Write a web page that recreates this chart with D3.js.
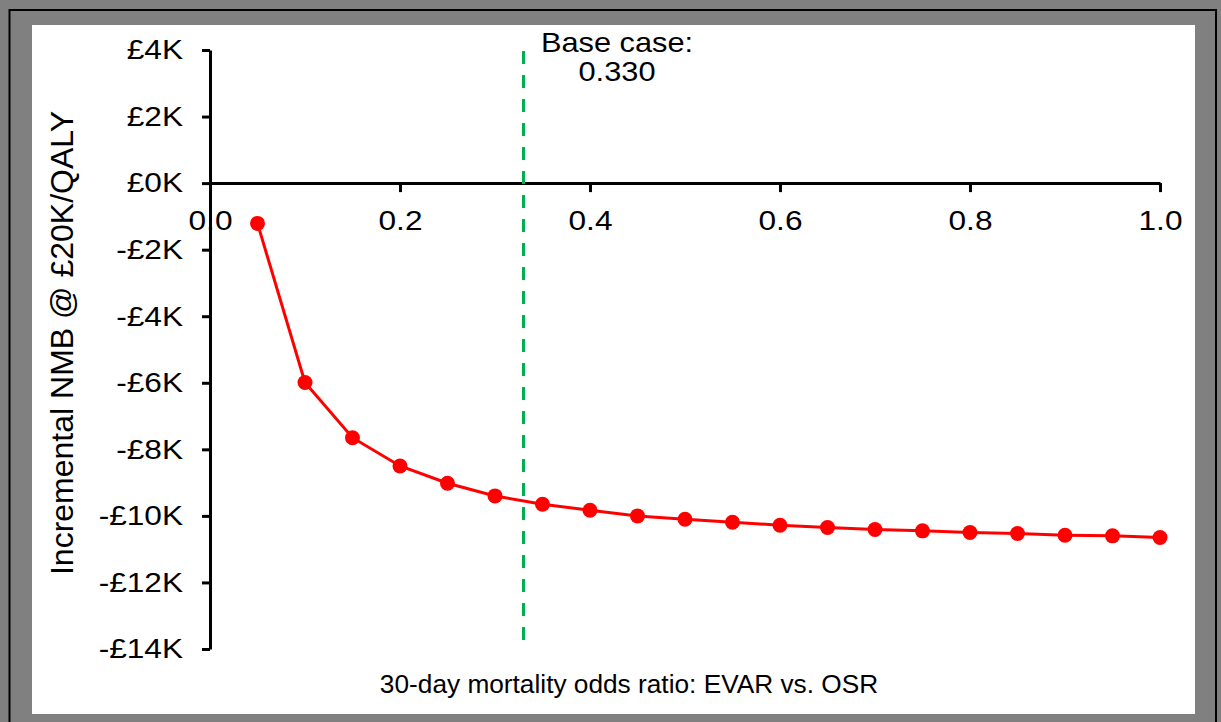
<!DOCTYPE html>
<html>
<head>
<meta charset="utf-8">
<script src="https://cdn.jsdelivr.net/npm/d3@7"></script>
<style>
  body { margin: 0; background: #808080; }
  svg { display: block; }
  text { font-family: "Liberation Sans", Arial, sans-serif; fill: #000; }
</style>
</head>
<body>
<div class="container"></div>
<script>
// data
const oddsRatio = [0.05, 0.10, 0.15, 0.20, 0.25, 0.30, 0.35, 0.40, 0.45, 0.50,
    0.55, 0.60, 0.65, 0.70, 0.75, 0.80, 0.85, 0.90, 0.95, 1.00]
const nmb = [-1210, -5990, -7650, -8500, -9020, -9400, -9650, -9830, -10000, -10100,
    -10190, -10280, -10350, -10410, -10450, -10500, -10530, -10580, -10600, -10650]
const xTicks = [0, 0.2, 0.4, 0.6, 0.8, 1.0]
const yTicks = [4000, 2000, 0, -2000, -4000, -6000, -8000, -10000, -12000, -14000]
const baseCase = 0.33
const baseLabel = ['Base case:', '0.330']

let width = 1221
let height = 722
let margin = { left: 210, right: 61, top: 50, bottom: 73 }
const stretch = 1.15 // horizontal text looks a bit widened in the picture

let svg = d3.select('.container')
    .append('svg')
    .attr('width', width)
    .attr('height', height)

// frame
svg.append('rect')
    .attr('x', 9.5).attr('y', 10)
    .attr('width', 1206.5).attr('height', 730)
    .attr('fill', 'none').attr('stroke', '#000').attr('stroke-width', 2)
svg.append('rect')
    .attr('x', 32).attr('y', 25)
    .attr('width', 1163).attr('height', 689)
    .attr('fill', '#fff')

let xScale = d3.scaleLinear()
    .domain([0, 1])
    .range([margin.left, width - margin.right])

let yScale = d3.scaleLinear()
    .domain([4000, -14000])
    .range([margin.top, height - margin.bottom])

let fmt = (v) => (v < 0 ? '-' : '') + '£' + Math.abs(v / 1000) + 'K'

// x axis (drawn first so the y axis covers the 0.0 label)
let xAxis = d3.axisBottom(xScale)
    .tickValues(xTicks)
    .tickFormat(d3.format('.1f'))
    .tickSize(9)
    .tickSizeOuter(0)
    .tickPadding(18)

let gx = svg.append('g')
    .attr('transform', `translate(0,${yScale(0)})`)
    .call(xAxis)
gx.select('.domain').attr('stroke-width', 3)
gx.selectAll('.tick line').attr('stroke-width', 3)
gx.selectAll('.tick text')
    .style('font-size', '27.5px')
    .attr('fill', '#000')
    .attr('transform', `scale(${stretch},1)`)

let yAxis = d3.axisLeft(yScale)
    .tickValues(yTicks)
    .tickFormat(fmt)
    .tickSize(8)
    .tickSizeOuter(0)
    .tickPadding(19)

let gy = svg.append('g')
    .attr('transform', `translate(${margin.left},0)`)
    .call(yAxis)
gy.select('.domain').attr('stroke-width', 3)
gy.selectAll('.tick line').attr('stroke-width', 3)
gy.selectAll('.tick text')
    .style('font-size', '27.5px')
    .attr('fill', '#000')
    .each(function () {
        let t = d3.select(this)
        let x = +t.attr('x')
        t.attr('x', 0).attr('transform', `translate(${x},0) scale(${stretch},1)`)
    })

// base case line
svg.append('line')
    .attr('x1', xScale(baseCase)).attr('x2', xScale(baseCase))
    .attr('y1', yScale(-13730)).attr('y2', yScale(4100))
    .attr('stroke', '#00b050')
    .attr('stroke-width', 3)
    .attr('stroke-dasharray', '13,11')

svg.selectAll('.base-label')
    .data(baseLabel)
    .enter()
    .append('text')
    .attr('class', 'base-label')
    .attr('text-anchor', 'middle')
    .style('font-size', '27px')
    .attr('transform', (d, i) => `translate(617,${52 + i * 29}) scale(1.14,1)`)
    .text((d) => d)

// series
let line = d3.line()
    .x((d, i) => xScale(oddsRatio[i]))
    .y((d) => yScale(d))

svg.append('path')
    .datum(nmb)
    .attr('d', line)
    .attr('fill', 'none')
    .attr('stroke', '#ff0000')
    .attr('stroke-width', 3)

svg.selectAll('circle')
    .data(nmb)
    .enter()
    .append('circle')
    .attr('cx', (d, i) => xScale(oddsRatio[i]))
    .attr('cy', (d) => yScale(d))
    .attr('r', 7.5)
    .attr('fill', '#ff0000')

// axis titles
svg.append('text')
    .attr('text-anchor', 'middle')
    .style('font-size', '25px')
    .attr('transform', `translate(629,693) scale(1.05,1)`)
    .text('30-day mortality odds ratio: EVAR vs. OSR')

svg.append('text')
    .attr('text-anchor', 'middle')
    .style('font-size', '32px')
    .attr('transform', 'translate(73,343) rotate(-90)')
    .text('Incremental NMB @ £20K/QALY')
</script>
</body>
</html>
